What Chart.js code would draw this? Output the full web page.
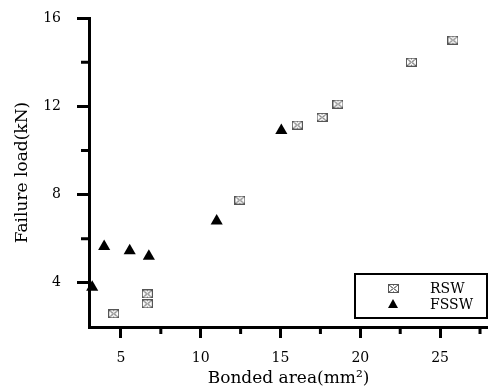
<!DOCTYPE html>
<html>
<head>
<meta charset="utf-8">
<script src="https://cdn.jsdelivr.net/npm/chart.js@4/dist/chart.umd.min.js"></script>
<style>
html,body{margin:0;padding:0;background:#fff;overflow:hidden;}
#wrap{width:488px;height:390px;position:relative;}
</style>
</head>
<body>
<div id="wrap"><canvas id="chart"></canvas></div>
<script>
// values
const rswX=[4.55,6.65,6.65,12.45,16.05,17.6,18.6,23.2,25.8];
const rswY=[2.6,3.5,3.05,7.75,11.15,11.5,12.1,14.0,15.0];
const fsswX=[3.2,3.95,5.55,6.75,11.0,15.05];
const fsswY=[3.8,5.65,5.45,5.2,6.8,10.9];
const xTicks=[5,10,15,20,25];
const xMinor=[7.5,12.5,17.5,22.5,27.5];
const yTicks=[4,8,12,16];
const yMinor=[6,10,14];

const serif="'DejaVu Serif','Liberation Serif',serif";

function rswMarker(){
  const c=document.createElement('canvas');c.width=11;c.height=9;
  const g=c.getContext('2d');
  g.strokeStyle='#555';g.lineWidth=1;
  g.strokeRect(0.5,0.5,10,8);
  g.beginPath();g.moveTo(1,1);g.lineTo(10,8);g.moveTo(10,1);g.lineTo(1,8);g.stroke();
  g.fillStyle='#888';
  g.fillRect(3,3,1,1);g.fillRect(7,3,1,1);g.fillRect(3,5,1,1);g.fillRect(7,5,1,1);g.fillRect(5,4,1,1);
  g.fillRect(5,1,1,1);g.fillRect(5,7,1,1);
  return c;
}

function pts(xs,ys){return xs.map((x,i)=>({x:x,y:ys[i]}));}

const minorTicks={
  id:'minorTicks',
  afterDraw(chart){
    const ctx=chart.ctx,xs=chart.scales.x,ys=chart.scales.y,a=chart.chartArea;
    ctx.save();ctx.strokeStyle='#000';ctx.lineWidth=3;ctx.beginPath();
    xMinor.forEach(v=>{const p=xs.getPixelForValue(v);ctx.moveTo(p,a.bottom);ctx.lineTo(p,a.bottom+7);});
    yMinor.forEach(v=>{const p=ys.getPixelForValue(v);ctx.moveTo(a.left,p);ctx.lineTo(a.left-8,p);});
    ctx.stroke();ctx.restore();
  }
};

const boxLegend={
  id:'boxLegend',
  afterDraw(chart){
    const ctx=chart.ctx,a=chart.chartArea;
    const r=a.right-1,b=a.bottom-9,l=r-132,t=b-44;
    ctx.save();
    ctx.fillStyle='#fff';ctx.fillRect(l,t,r-l,b-t);
    ctx.strokeStyle='#000';ctx.lineWidth=2;ctx.strokeRect(l,t,r-l,b-t);
    ctx.font='14px '+serif;ctx.fillStyle='#000';ctx.textBaseline='middle';ctx.textAlign='left';
    chart.data.datasets.forEach((ds,i)=>{
      const y=t+14+i*16;
      const mx=l+38;
      if(ds.pointStyle instanceof HTMLCanvasElement){
        ctx.drawImage(ds.pointStyle,mx-5,y-4);
      }else{
        ctx.beginPath();ctx.moveTo(mx,y-5);ctx.lineTo(mx+5,y+4);ctx.lineTo(mx-5,y+4);ctx.closePath();ctx.fill();
      }
      ctx.fillText(ds.label,l+75,y+1);
    });
    ctx.restore();
  }
};

new Chart(document.getElementById('chart'),{
  type:'scatter',
  data:{datasets:[
    {label:'RSW',data:pts(rswX,rswY),pointStyle:rswMarker(),pointRadius:6,clip:false},
    {label:'FSSW',data:pts(fsswX,fsswY),pointStyle:'triangle',pointRadius:7,backgroundColor:'#000',borderColor:'#000',borderWidth:0,clip:false}
  ]},
  options:{
    responsive:true,maintainAspectRatio:false,animation:false,
    layout:{autoPadding:false,padding:{top:18,right:0,left:0,bottom:0}},
    plugins:{legend:{display:false},tooltip:{enabled:false}},
    scales:{
      x:{type:'linear',min:3,max:28,
        afterBuildTicks:s=>{s.ticks=xTicks.map(v=>({value:v}));},
        afterFit:s=>{s.height=63;s.paddingLeft=0;s.paddingRight=0;},
        grid:{drawOnChartArea:false,drawTicks:true,tickLength:11,tickWidth:3,tickColor:'#000'},
        border:{display:true,width:3,color:'#000'},
        ticks:{font:{family:serif,size:14},color:'#000',padding:12,maxRotation:0},
        title:{display:true,text:'Bonded area(mm²)',font:{family:serif,size:17},color:'#000',padding:{top:0,bottom:1}}
      },
      y:{type:'linear',min:2,max:16,
        afterBuildTicks:s=>{s.ticks=yTicks.map(v=>({value:v}));},
        afterFit:s=>{s.width=89;s.paddingTop=0;s.paddingBottom=0;},
        grid:{drawOnChartArea:false,drawTicks:true,tickLength:12,tickWidth:3,tickColor:'#000'},
        border:{display:true,width:3,color:'#000'},
        ticks:{font:{family:serif,size:14},color:'#000',padding:16},
        title:{display:true,text:'Failure load(kN)',font:{family:serif,size:17},color:'#000',padding:{top:12,bottom:0}}
      }
    }
  },
  plugins:[minorTicks,boxLegend]
});
</script>
</body>
</html>
